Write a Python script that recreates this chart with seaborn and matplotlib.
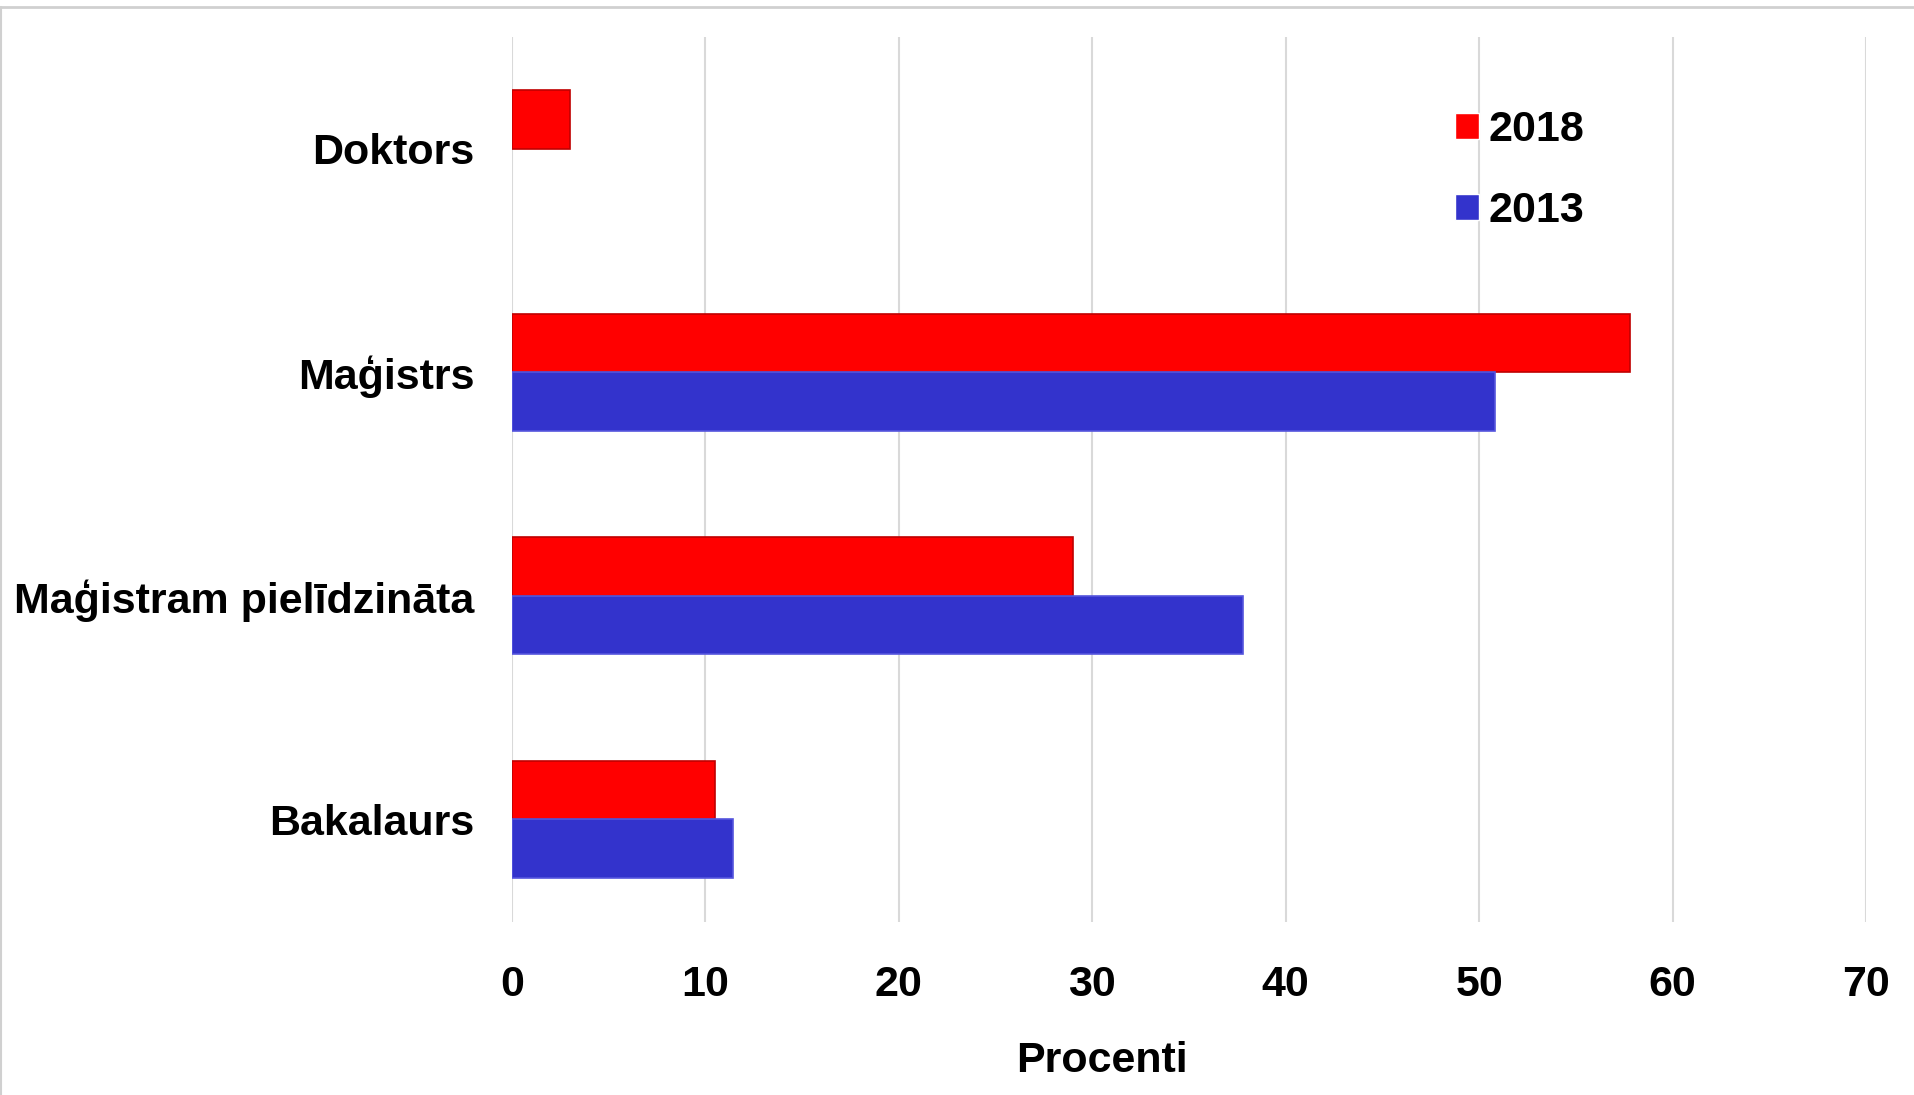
import numpy as np
import pandas as pd
import matplotlib
matplotlib.use('agg')
import matplotlib.pyplot as plt
from matplotlib.lines import Line2D
import seaborn as sns

# Data
categories = ["Doktors", "Maģistrs", "Maģistram pielīdzināta", "Bakalaurs"]
years = ["2018", "2013"]
values_2018 = [3.0, 57.8, 29.0, 10.5]
values_2013 = [np.nan, 50.8, 37.8, 11.4]

df = pd.DataFrame({
    "Kategorija": categories * 2,
    "Gads": ["2018"] * 4 + ["2013"] * 4,
    "Procenti": values_2018 + values_2013,
})

sns.set_style("white")
plt.rcParams['font.family'] = ['Liberation Sans', 'DejaVu Sans']
plt.rcParams['text.color'] = 'black'
plt.rcParams['xtick.color'] = 'black'
plt.rcParams['ytick.color'] = 'black'
plt.rcParams['axes.labelcolor'] = 'black'

fig = plt.figure(figsize=(19.15, 10.95), dpi=100)
ax = fig.add_axes([0.2674, 0.158, 0.707, 0.808])

palette = {"2018": "#FF0000", "2013": "#3333CC"}
sns.barplot(data=df, y="Kategorija", x="Procenti", hue="Gads",
            order=categories, hue_order=years, palette=palette,
            orient="h", width=0.525, saturation=1, ax=ax, zorder=3)

# edge colours like the original
for cont, ec in zip(ax.containers, ["#C00000", "#5555DD"]):
    for bar in cont:
        bar.set_edgecolor(ec)
        bar.set_linewidth(1.2)

ax.set_xlim(0, 70)
ax.set_ylim(3.46, -0.5)
ax.set_xticks(range(0, 71, 10))
ax.grid(axis="x", color="#D9D9D9", linewidth=1.5, zorder=0)
ax.grid(axis="y", visible=False)
for s in ax.spines.values():
    s.set_visible(False)

fs = 31
ax.tick_params(axis="x", length=0, pad=31, labelsize=fs, labelcolor="black")
ax.tick_params(axis="y", length=0, pad=27, labelsize=fs, labelcolor="black")
for lbl in ax.get_xticklabels() + ax.get_yticklabels():
    lbl.set_fontweight("bold")

ax.set_ylabel("")
ax.set_xlabel("Procenti", fontsize=fs, fontweight="bold", color="black")
ax.xaxis.set_label_coords(0.436, -0.135)

leg = ax.legend(loc="upper left", bbox_to_anchor=(0.668, 0.961), frameon=False,
                prop={"size": fs, "weight": "bold"}, handlelength=0.55,
                handleheight=0.55, handletextpad=0.22, labelspacing=0.95)
for t in leg.get_texts():
    t.set_color("black")

# light frame lines of the original screenshot
fig.add_artist(Line2D([0, 1], [1 - 7 / 1095, 1 - 7 / 1095], color="#D0D0D0", lw=2))
fig.add_artist(Line2D([1 / 1915, 1 / 1915], [0, 1 - 7 / 1095], color="#D0D0D0", lw=1.5))

fig.savefig("out.png", dpi=100)
